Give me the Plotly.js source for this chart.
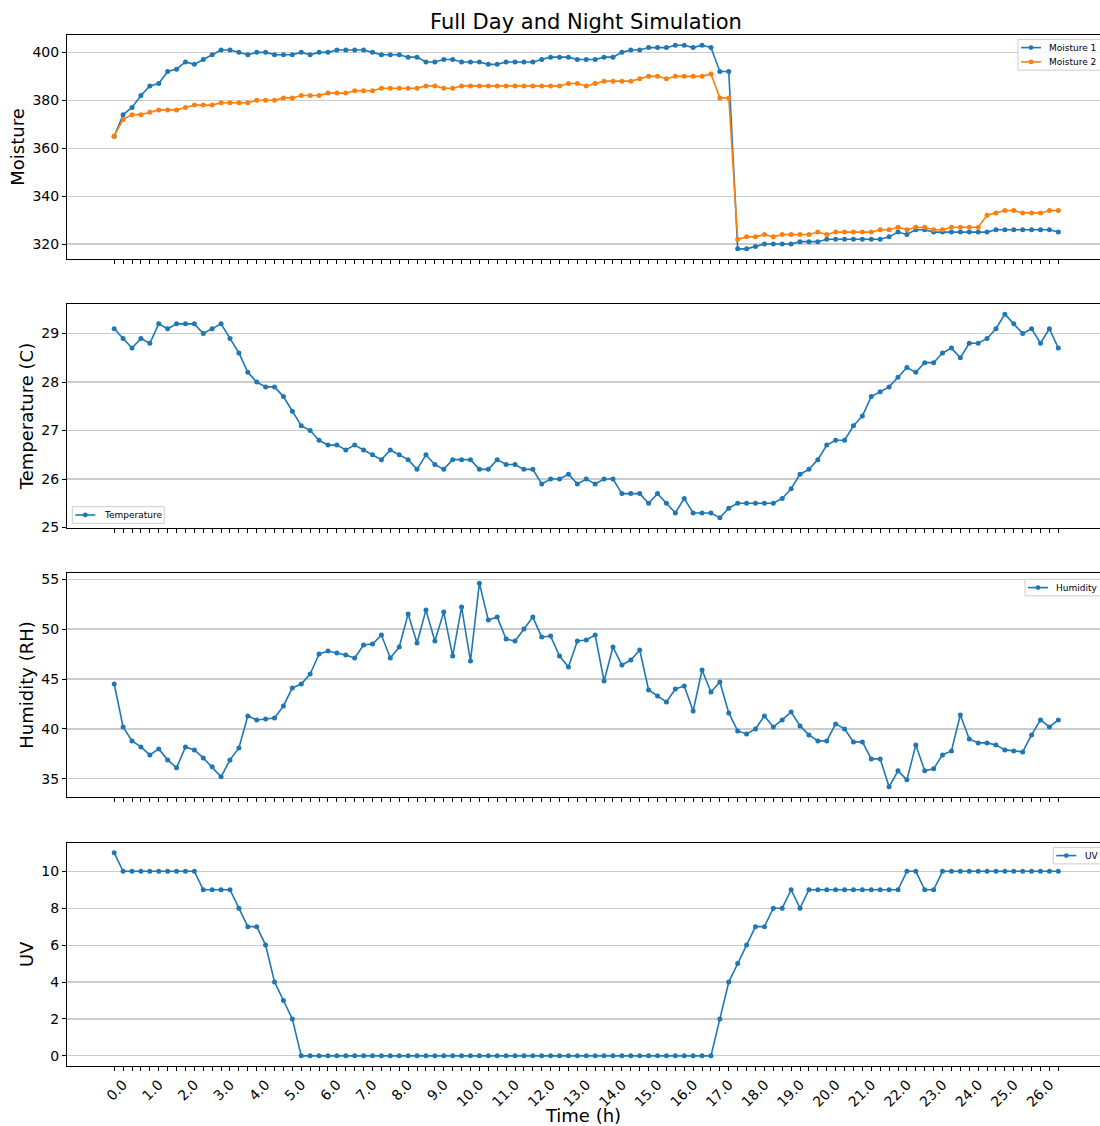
<!DOCTYPE html>
<html>
<head>
<meta charset="utf-8">
<script src="https://cdn.plot.ly/plotly-3.0.1.min.js"></script>
<style>
html,body{margin:0;padding:0;background:#fff;}
#chart{width:1100px;height:1126px;}
</style>
</head>
<body>
<div id="chart"></div>
<script>
// ---- Data ----
const timeHours = [0,0.25,0.5,0.75,1,1.25,1.5,1.75,2,2.25,2.5,2.75,3,3.25,3.5,3.75,4,4.25,4.5,4.75,5,5.25,5.5,5.75,6,6.25,6.5,6.75,7,7.25,7.5,7.75,8,8.25,8.5,8.75,9,9.25,9.5,9.75,10,10.25,10.5,10.75,11,11.25,11.5,11.75,12,12.25,12.5,12.75,13,13.25,13.5,13.75,14,14.25,14.5,14.75,15,15.25,15.5,15.75,16,16.25,16.5,16.75,17,17.25,17.5,17.75,18,18.25,18.5,18.75,19,19.25,19.5,19.75,20,20.25,20.5,20.75,21,21.25,21.5,21.75,22,22.25,22.5,22.75,23,23.25,23.5,23.75,24,24.25,24.5,24.75,25,25.25,25.5,25.75,26,26.25,26.5];

const moisture1 = [365,374,377,382,386,387,392,393,396,395,397,399,401,401,400,399,400,400,399,399,399,400,399,400,400,401,401,401,401,400,399,399,399,398,398,
396,396,397,397,396,396,396,395,395,396,396,396,396,397,398,398,398,397,397,397,398,398,400,401,401,402,402,402,403,403,402,403,402,392,392,318,318,319,
320,320,320,320,321,321,321,322,322,322,322,322,322,322,323,325,324,326,326,325,325,325,325,325,325,325,326,326,326,326,326,326,326,325];

const moisture2 = [365,372,374,374,375,376,376,376,377,378,378,378,379,379,379,379,380,380,380,381,381,382,382,382,383,383,383,384,384,384,385,385,385,385,385,
386,386,385,385,386,386,386,386,386,386,386,386,386,386,386,386,387,387,386,387,388,388,388,388,389,390,390,389,390,390,390,390,391,381,381,322,323,323,
324,323,324,324,324,324,325,324,325,325,325,325,325,326,326,327,326,327,327,326,326,327,327,327,327,332,333,334,334,333,333,333,334,334];

const temperature = [29.1,28.9,28.7,28.9,28.8,29.2,29.1,29.2,29.2,29.2,29.0,29.1,29.2,28.9,28.6,28.2,28.0,27.9,27.9,27.7,27.4,27.1,27.0,26.8,26.7,26.7,26.6,26.7,26.6,26.5,26.4,26.6,26.5,26.4,26.2,
26.5,26.3,26.2,26.4,26.4,26.4,26.2,26.2,26.4,26.3,26.3,26.2,26.2,25.9,26.0,26.0,26.1,25.9,26.0,25.9,26.0,26.0,25.7,25.7,25.7,25.5,25.7,25.5,25.3,25.6,25.3,25.3,25.3,25.2,25.4,25.5,25.5,25.5,
25.5,25.5,25.6,25.8,26.1,26.2,26.4,26.7,26.8,26.8,27.1,27.3,27.7,27.8,27.9,28.1,28.3,28.2,28.4,28.4,28.6,28.7,28.5,28.8,28.8,28.9,29.1,29.4,29.2,29.0,29.1,28.8,29.1,28.7];

const humidity = [44.5,40.2,38.8,38.2,37.4,38.0,36.9,36.1,38.2,37.9,37.1,36.2,35.2,36.9,38.1,41.3,40.9,41.0,41.1,42.3,44.1,44.5,45.5,47.5,47.8,47.6,47.4,47.1,48.4,48.5,49.4,47.1,48.2,51.5,48.6,
51.9,48.8,51.7,47.3,52.2,46.8,54.6,50.9,51.2,49.0,48.8,50.0,51.2,49.2,49.3,47.3,46.2,48.8,48.9,49.4,44.8,48.2,46.4,46.9,47.9,43.9,43.3,42.7,44.0,44.3,41.8,45.9,43.7,44.7,41.6,39.8,39.5,40.0,
41.3,40.2,40.9,41.7,40.3,39.4,38.8,38.8,40.5,40.0,38.7,38.7,37.0,37.0,34.2,35.8,34.9,38.4,35.8,36.0,37.4,37.8,41.4,39.0,38.6,38.6,38.4,37.9,37.8,37.7,39.4,40.9,40.2,40.9];

const uv = [11,10,10,10,10,10,10,10,10,10,9,9,9,9,8,7,7,6,4,3,2,
0,0,0,0,0,0,0,0,0,0,
0,0,0,0,0,0,0,0,0,0,
0,0,0,0,0,0,0,0,0,0,
0,0,0,0,0,0,0,0,0,0,
0,0,0,0,0,0,0,
2,4,5,6,7,7,8,8,9,8,
9,9,9,9,9,9,9,9,9,9,9,
10,10,9,9,
10,10,10,10,10,10,10,10,10,10,10,10,10,10];

const tickHours = [0,1,2,3,4,5,6,7,8,9,10,11,12,13,14,15,16,17,18,19,20,21,22,23,24,25,26];
const tickLabels = ["0.0","1.0","2.0","3.0","4.0","5.0","6.0","7.0","8.0","9.0","10.0","11.0","12.0","13.0","14.0","15.0","16.0","17.0","18.0","19.0","20.0","21.0","22.0","23.0","24.0","25.0","26.0"];

const moistureTicks = [320,340,360,380,400];
const temperatureTicks = [25,26,27,28,29];
const humidityTicks = [35,40,45,50,55];
const uvTicks = [0,2,4,6,8,10];

const seriesNames = {m1: 'Moisture 1', m2: 'Moisture 2', t: 'Temperature', h: 'Humidity', uv: 'UV'};

// ---- Styling ----
const BLUE = '#1f77b4', ORANGE = '#ff7f0e';
const FONT = 'DejaVu Sans, Liberation Sans, sans-serif';
const W = 1100, H = 1126, ML = 67, MR = 0, MT = 35, MB = 60;
const PW = W - ML - MR, PH = H - MT - MB;
const PX = px => (px - ML) / PW;          // pixel -> paper x
const PY = py => (H - MB - py) / PH;      // pixel -> paper y

function series(y, name, color, xa, ya) {
  return {
    x: timeHours, y: y, name: name, type: 'scatter', mode: 'lines+markers',
    xaxis: xa, yaxis: ya, showlegend: false,
    line: {color: color, width: 1.6},
    marker: {color: color, size: 5}
  };
}

const data = [
  series(moisture1, seriesNames.m1, BLUE, 'x', 'y'),
  series(moisture2, seriesNames.m2, ORANGE, 'x', 'y'),
  series(temperature, seriesNames.t, BLUE, 'x2', 'y2'),
  series(humidity, seriesNames.h, BLUE, 'x3', 'y3'),
  series(uv, seriesNames.uv, BLUE, 'x4', 'y4')
];

function xaxis(anchor, showLabels, extra) {
  return Object.assign({
    anchor: anchor,
    range: [-1.325, 27.67],
    tickmode: 'array', tickvals: tickHours, ticktext: tickLabels,
    showticklabels: showLabels,
    ticks: 'outside', ticklen: 4, tickwidth: 1, tickcolor: '#000',
    minor: {tickmode: 'array', tickvals: timeHours, ticks: 'outside', ticklen: 4, tickwidth: 1, tickcolor: '#000', showgrid: false},
    showgrid: false, zeroline: false,
    showline: true, mirror: true, linecolor: '#000', linewidth: 1,
    tickfont: {family: FONT, size: 14, color: '#000'},
    automargin: false
  }, extra || {});
}

function yaxis(anchor, domain, range, ticks, title) {
  return {
    anchor: anchor, domain: domain, range: range,
    tickmode: 'array', tickvals: ticks,
    ticks: 'outside', ticklen: 4, tickwidth: 1, tickcolor: '#000',
    showgrid: true, gridcolor: '#cccccc', gridwidth: 1.2,
    zeroline: false,
    showline: true, mirror: false, linecolor: '#000', linewidth: 1,
    tickfont: {family: FONT, size: 14, color: '#000'},
    title: {text: title, font: {family: FONT, size: 18, color: '#000'}, standoff: 3},
    automargin: false
  };
}

// ---- Legend boxes drawn in matplotlib style (small, framed) ----
const legendSpecs = [
  {left: 1018, top: 39.3, right: 1104, rows: [[seriesNames.m1, BLUE], [seriesNames.m2, ORANGE]]},
  {left: 72.3, top: 506.7, right: 164.3, rows: [[seriesNames.t, BLUE]]},
  {left: 1025, top: 579.3, right: 1104, rows: [[seriesNames.h, BLUE]]},
  {left: 1053.3, top: 847.3, right: 1104, rows: [[seriesNames.uv, BLUE]]}
];
const shapes = [], annotations = [];
legendSpecs.forEach(spec => {
  const rowGap = 14.3, pad = 8.3;
  const bottom = spec.top + pad * 2 + rowGap * (spec.rows.length - 1);
  shapes.push({type: 'rect', xref: 'paper', yref: 'paper', layer: 'above',
    x0: PX(spec.left), x1: PX(spec.right), y0: PY(bottom), y1: PY(spec.top),
    line: {color: '#cccccc', width: 1}, fillcolor: 'rgba(255,255,255,0.8)'});
  spec.rows.forEach((row, k) => {
    const cy = spec.top + pad + rowGap * k;
    const lx0 = spec.left + 3, lx1 = spec.left + 23, mx = spec.left + 13;
    shapes.push({type: 'line', xref: 'paper', yref: 'paper', layer: 'above',
      x0: PX(lx0), x1: PX(lx1), y0: PY(cy), y1: PY(cy), line: {color: row[1], width: 1.6}});
    shapes.push({type: 'circle', xref: 'paper', yref: 'paper', layer: 'above',
      x0: PX(mx - 2.4), x1: PX(mx + 2.4), y0: PY(cy + 2.4), y1: PY(cy - 2.4),
      line: {color: row[1], width: 0}, fillcolor: row[1]});
    annotations.push({text: row[0], xref: 'paper', yref: 'paper', x: PX(spec.left + 29.3), y: PY(cy),
      xanchor: 'left', yanchor: 'middle', showarrow: false,
      font: {family: FONT, size: 9, color: '#000'}});
  });
});

const layout = {
  width: W, height: H,
  margin: {l: ML, r: MR, t: MT, b: MB},
  paper_bgcolor: '#fff', plot_bgcolor: '#fff',
  font: {family: FONT, color: '#000'},
  title: {text: 'Full Day and Night Simulation', font: {family: FONT, size: 21, color: '#000'},
          x: 0.5024, xref: 'paper', xanchor: 'center', y: 0.9805, yref: 'container', yanchor: 'middle'},
  showlegend: false,
  xaxis: xaxis('y', false, {matches: 'x4'}),
  xaxis2: xaxis('y2', false, {matches: 'x4'}),
  xaxis3: xaxis('y3', false, {matches: 'x4'}),
  xaxis4: xaxis('y4', true, {
    tickangle: -45, ticklabelshift: 9,
    title: {text: 'Time (h)', font: {family: FONT, size: 18, color: '#000'}, standoff: 4}
  }),
  yaxis: yaxis('x', [0.7827, 1], [313.75, 407.25], moistureTicks, 'Moisture'),
  yaxis2: yaxis('x2', [0.5218, 0.7391], [24.99, 29.61], temperatureTicks, 'Temperature (C)'),
  yaxis3: yaxis('x3', [0.2609, 0.4782], [33.18, 55.62], humidityTicks, 'Humidity (RH)'),
  yaxis4: yaxis('x4', [0, 0.2166], [-0.55, 11.55], uvTicks, 'UV'),
  shapes: shapes,
  annotations: annotations
};

Plotly.newPlot('chart', data, layout, {displayModeBar: false, staticPlot: true});
</script>
</body>
</html>
